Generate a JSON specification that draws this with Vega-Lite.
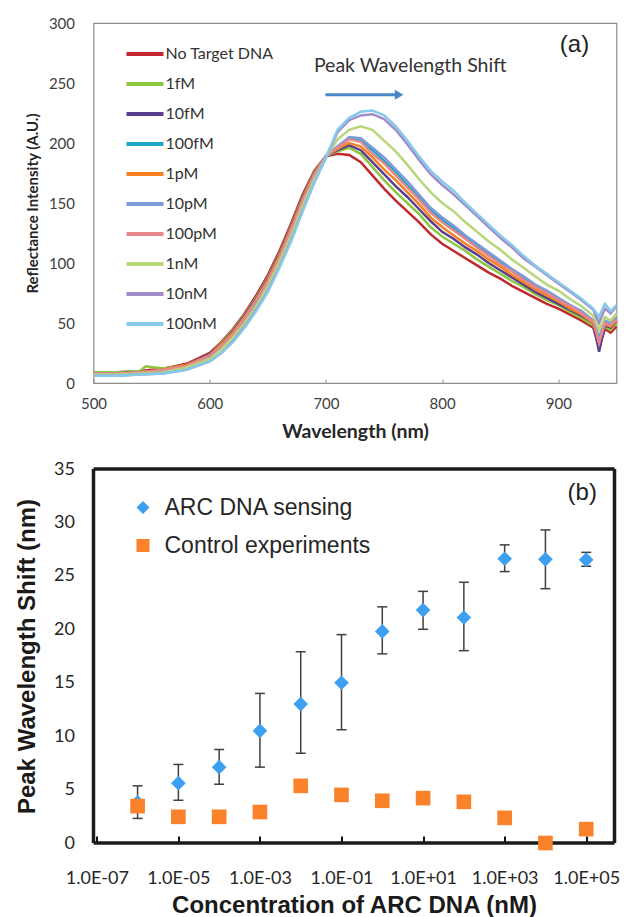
{
  "$schema": "https://vega.github.io/schema/vega-lite/v6.json",
  "background": "white",
  "padding": {"left": 15.5, "top": 15, "right": 4, "bottom": 2},
  "spacing": 86,
  "bounds": "flush",
  "resolve": {"scale": {"x": "independent", "y": "independent", "color": "independent", "shape": "independent"}, "legend": {"color": "independent", "shape": "independent"}},
  "datasets": {
    "spectra": [
      {"s":"No Target DNA","w":500,"r":9},{"s":"No Target DNA","w":520,"r":9},{"s":"No Target DNA","w":540,"r":10},{"s":"No Target DNA","w":560,"r":12},{"s":"No Target DNA","w":580,"r":16},{"s":"No Target DNA","w":600,"r":25},{"s":"No Target DNA","w":610,"r":34},{"s":"No Target DNA","w":620,"r":45},{"s":"No Target DNA","w":630,"r":58},{"s":"No Target DNA","w":640,"r":73},{"s":"No Target DNA","w":650,"r":90},{"s":"No Target DNA","w":660,"r":110},{"s":"No Target DNA","w":670,"r":133},{"s":"No Target DNA","w":680,"r":157},{"s":"No Target DNA","w":690,"r":177},{"s":"No Target DNA","w":700,"r":189},{"s":"No Target DNA","w":710,"r":191},{"s":"No Target DNA","w":720,"r":190},{"s":"No Target DNA","w":730,"r":184},{"s":"No Target DNA","w":740,"r":173},{"s":"No Target DNA","w":750,"r":162},{"s":"No Target DNA","w":760,"r":152},{"s":"No Target DNA","w":770,"r":143},{"s":"No Target DNA","w":780,"r":134},{"s":"No Target DNA","w":790,"r":124},{"s":"No Target DNA","w":800,"r":116},{"s":"No Target DNA","w":810,"r":110},{"s":"No Target DNA","w":820,"r":104},{"s":"No Target DNA","w":830,"r":98},{"s":"No Target DNA","w":840,"r":92},{"s":"No Target DNA","w":850,"r":87},{"s":"No Target DNA","w":860,"r":81},{"s":"No Target DNA","w":870,"r":76},{"s":"No Target DNA","w":880,"r":71},{"s":"No Target DNA","w":890,"r":66},{"s":"No Target DNA","w":900,"r":62},{"s":"No Target DNA","w":910,"r":57},{"s":"No Target DNA","w":920,"r":52},{"s":"No Target DNA","w":930,"r":46},{"s":"No Target DNA","w":935,"r":30},{"s":"No Target DNA","w":940,"r":45},{"s":"No Target DNA","w":945,"r":42},{"s":"No Target DNA","w":950,"r":47},
      {"s":"1fM","w":500,"r":9},{"s":"1fM","w":520,"r":9},{"s":"1fM","w":540,"r":10},{"s":"1fM","w":545,"r":14},{"s":"1fM","w":560,"r":12},{"s":"1fM","w":580,"r":15},{"s":"1fM","w":600,"r":24},{"s":"1fM","w":610,"r":33},{"s":"1fM","w":620,"r":44},{"s":"1fM","w":630,"r":57},{"s":"1fM","w":640,"r":71},{"s":"1fM","w":650,"r":88},{"s":"1fM","w":660,"r":108},{"s":"1fM","w":670,"r":131},{"s":"1fM","w":680,"r":155},{"s":"1fM","w":690,"r":176},{"s":"1fM","w":700,"r":189},{"s":"1fM","w":710,"r":193},{"s":"1fM","w":720,"r":196},{"s":"1fM","w":730,"r":191},{"s":"1fM","w":740,"r":180},{"s":"1fM","w":750,"r":169},{"s":"1fM","w":760,"r":159},{"s":"1fM","w":770,"r":150},{"s":"1fM","w":780,"r":141},{"s":"1fM","w":790,"r":130},{"s":"1fM","w":800,"r":122},{"s":"1fM","w":810,"r":116},{"s":"1fM","w":820,"r":110},{"s":"1fM","w":830,"r":103},{"s":"1fM","w":840,"r":97},{"s":"1fM","w":850,"r":91},{"s":"1fM","w":860,"r":85},{"s":"1fM","w":870,"r":80},{"s":"1fM","w":880,"r":74},{"s":"1fM","w":890,"r":69},{"s":"1fM","w":900,"r":65},{"s":"1fM","w":910,"r":59},{"s":"1fM","w":920,"r":54},{"s":"1fM","w":930,"r":48},{"s":"1fM","w":935,"r":34},{"s":"1fM","w":940,"r":47},{"s":"1fM","w":945,"r":44},{"s":"1fM","w":950,"r":50},
      {"s":"10fM","w":500,"r":8},{"s":"10fM","w":520,"r":8},{"s":"10fM","w":540,"r":9},{"s":"10fM","w":560,"r":11},{"s":"10fM","w":580,"r":15},{"s":"10fM","w":600,"r":24},{"s":"10fM","w":610,"r":32},{"s":"10fM","w":620,"r":43},{"s":"10fM","w":630,"r":56},{"s":"10fM","w":640,"r":70},{"s":"10fM","w":650,"r":87},{"s":"10fM","w":660,"r":107},{"s":"10fM","w":670,"r":130},{"s":"10fM","w":680,"r":154},{"s":"10fM","w":690,"r":175},{"s":"10fM","w":700,"r":189},{"s":"10fM","w":710,"r":194},{"s":"10fM","w":720,"r":198},{"s":"10fM","w":730,"r":194},{"s":"10fM","w":740,"r":184},{"s":"10fM","w":750,"r":174},{"s":"10fM","w":760,"r":164},{"s":"10fM","w":770,"r":155},{"s":"10fM","w":780,"r":145},{"s":"10fM","w":790,"r":135},{"s":"10fM","w":800,"r":126},{"s":"10fM","w":810,"r":120},{"s":"10fM","w":820,"r":113},{"s":"10fM","w":830,"r":107},{"s":"10fM","w":840,"r":100},{"s":"10fM","w":850,"r":94},{"s":"10fM","w":860,"r":88},{"s":"10fM","w":870,"r":82},{"s":"10fM","w":880,"r":76},{"s":"10fM","w":890,"r":71},{"s":"10fM","w":900,"r":66},{"s":"10fM","w":910,"r":61},{"s":"10fM","w":920,"r":56},{"s":"10fM","w":930,"r":50},{"s":"10fM","w":935,"r":26},{"s":"10fM","w":940,"r":48},{"s":"10fM","w":945,"r":46},{"s":"10fM","w":950,"r":52},
      {"s":"100fM","w":500,"r":8},{"s":"100fM","w":520,"r":8},{"s":"100fM","w":540,"r":9},{"s":"100fM","w":560,"r":10},{"s":"100fM","w":580,"r":14},{"s":"100fM","w":600,"r":22},{"s":"100fM","w":610,"r":31},{"s":"100fM","w":620,"r":41},{"s":"100fM","w":630,"r":53},{"s":"100fM","w":640,"r":68},{"s":"100fM","w":650,"r":85},{"s":"100fM","w":660,"r":105},{"s":"100fM","w":670,"r":127},{"s":"100fM","w":680,"r":152},{"s":"100fM","w":690,"r":173},{"s":"100fM","w":700,"r":189},{"s":"100fM","w":710,"r":197},{"s":"100fM","w":720,"r":204},{"s":"100fM","w":730,"r":202},{"s":"100fM","w":740,"r":194},{"s":"100fM","w":750,"r":185},{"s":"100fM","w":760,"r":176},{"s":"100fM","w":770,"r":165},{"s":"100fM","w":780,"r":155},{"s":"100fM","w":790,"r":144},{"s":"100fM","w":800,"r":136},{"s":"100fM","w":810,"r":129},{"s":"100fM","w":820,"r":121},{"s":"100fM","w":830,"r":114},{"s":"100fM","w":840,"r":107},{"s":"100fM","w":850,"r":101},{"s":"100fM","w":860,"r":94},{"s":"100fM","w":870,"r":87},{"s":"100fM","w":880,"r":81},{"s":"100fM","w":890,"r":75},{"s":"100fM","w":900,"r":70},{"s":"100fM","w":910,"r":65},{"s":"100fM","w":920,"r":59},{"s":"100fM","w":930,"r":52},{"s":"100fM","w":935,"r":35},{"s":"100fM","w":940,"r":51},{"s":"100fM","w":945,"r":49},{"s":"100fM","w":950,"r":54},
      {"s":"1pM","w":500,"r":8},{"s":"1pM","w":520,"r":8},{"s":"1pM","w":540,"r":9},{"s":"1pM","w":560,"r":11},{"s":"1pM","w":580,"r":15},{"s":"1pM","w":600,"r":23},{"s":"1pM","w":610,"r":32},{"s":"1pM","w":620,"r":42},{"s":"1pM","w":630,"r":55},{"s":"1pM","w":640,"r":69},{"s":"1pM","w":650,"r":86},{"s":"1pM","w":660,"r":106},{"s":"1pM","w":670,"r":129},{"s":"1pM","w":680,"r":153},{"s":"1pM","w":690,"r":174},{"s":"1pM","w":700,"r":189},{"s":"1pM","w":710,"r":195},{"s":"1pM","w":720,"r":200},{"s":"1pM","w":730,"r":197},{"s":"1pM","w":740,"r":188},{"s":"1pM","w":750,"r":178},{"s":"1pM","w":760,"r":169},{"s":"1pM","w":770,"r":159},{"s":"1pM","w":780,"r":149},{"s":"1pM","w":790,"r":138},{"s":"1pM","w":800,"r":130},{"s":"1pM","w":810,"r":123},{"s":"1pM","w":820,"r":116},{"s":"1pM","w":830,"r":110},{"s":"1pM","w":840,"r":103},{"s":"1pM","w":850,"r":97},{"s":"1pM","w":860,"r":90},{"s":"1pM","w":870,"r":84},{"s":"1pM","w":880,"r":78},{"s":"1pM","w":890,"r":73},{"s":"1pM","w":900,"r":68},{"s":"1pM","w":910,"r":62},{"s":"1pM","w":920,"r":57},{"s":"1pM","w":930,"r":50},{"s":"1pM","w":935,"r":36},{"s":"1pM","w":940,"r":49},{"s":"1pM","w":945,"r":47},{"s":"1pM","w":950,"r":52},
      {"s":"10pM","w":500,"r":8},{"s":"10pM","w":520,"r":8},{"s":"10pM","w":540,"r":9},{"s":"10pM","w":560,"r":10},{"s":"10pM","w":580,"r":14},{"s":"10pM","w":600,"r":22},{"s":"10pM","w":610,"r":30},{"s":"10pM","w":620,"r":40},{"s":"10pM","w":630,"r":53},{"s":"10pM","w":640,"r":67},{"s":"10pM","w":650,"r":84},{"s":"10pM","w":660,"r":104},{"s":"10pM","w":670,"r":127},{"s":"10pM","w":680,"r":151},{"s":"10pM","w":690,"r":173},{"s":"10pM","w":700,"r":189},{"s":"10pM","w":710,"r":197},{"s":"10pM","w":720,"r":205},{"s":"10pM","w":730,"r":204},{"s":"10pM","w":740,"r":196},{"s":"10pM","w":750,"r":188},{"s":"10pM","w":760,"r":178},{"s":"10pM","w":770,"r":168},{"s":"10pM","w":780,"r":157},{"s":"10pM","w":790,"r":146},{"s":"10pM","w":800,"r":138},{"s":"10pM","w":810,"r":131},{"s":"10pM","w":820,"r":123},{"s":"10pM","w":830,"r":116},{"s":"10pM","w":840,"r":109},{"s":"10pM","w":850,"r":102},{"s":"10pM","w":860,"r":95},{"s":"10pM","w":870,"r":89},{"s":"10pM","w":880,"r":82},{"s":"10pM","w":890,"r":77},{"s":"10pM","w":900,"r":71},{"s":"10pM","w":910,"r":65},{"s":"10pM","w":920,"r":60},{"s":"10pM","w":930,"r":52},{"s":"10pM","w":935,"r":38},{"s":"10pM","w":940,"r":52},{"s":"10pM","w":945,"r":50},{"s":"10pM","w":950,"r":55},
      {"s":"100pM","w":500,"r":8},{"s":"100pM","w":520,"r":8},{"s":"100pM","w":540,"r":9},{"s":"100pM","w":560,"r":11},{"s":"100pM","w":580,"r":14},{"s":"100pM","w":600,"r":23},{"s":"100pM","w":610,"r":31},{"s":"100pM","w":620,"r":41},{"s":"100pM","w":630,"r":54},{"s":"100pM","w":640,"r":69},{"s":"100pM","w":650,"r":85},{"s":"100pM","w":660,"r":105},{"s":"100pM","w":670,"r":128},{"s":"100pM","w":680,"r":152},{"s":"100pM","w":690,"r":174},{"s":"100pM","w":700,"r":189},{"s":"100pM","w":710,"r":196},{"s":"100pM","w":720,"r":203},{"s":"100pM","w":730,"r":201},{"s":"100pM","w":740,"r":191},{"s":"100pM","w":750,"r":183},{"s":"100pM","w":760,"r":173},{"s":"100pM","w":770,"r":163},{"s":"100pM","w":780,"r":153},{"s":"100pM","w":790,"r":142},{"s":"100pM","w":800,"r":134},{"s":"100pM","w":810,"r":127},{"s":"100pM","w":820,"r":120},{"s":"100pM","w":830,"r":113},{"s":"100pM","w":840,"r":106},{"s":"100pM","w":850,"r":99},{"s":"100pM","w":860,"r":93},{"s":"100pM","w":870,"r":86},{"s":"100pM","w":880,"r":80},{"s":"100pM","w":890,"r":75},{"s":"100pM","w":900,"r":69},{"s":"100pM","w":910,"r":64},{"s":"100pM","w":920,"r":58},{"s":"100pM","w":930,"r":51},{"s":"100pM","w":935,"r":33},{"s":"100pM","w":940,"r":50},{"s":"100pM","w":945,"r":48},{"s":"100pM","w":950,"r":53},
      {"s":"1nM","w":500,"r":7},{"s":"1nM","w":520,"r":7},{"s":"1nM","w":540,"r":8},{"s":"1nM","w":560,"r":9},{"s":"1nM","w":580,"r":13},{"s":"1nM","w":600,"r":20},{"s":"1nM","w":610,"r":28},{"s":"1nM","w":620,"r":38},{"s":"1nM","w":630,"r":50},{"s":"1nM","w":640,"r":64},{"s":"1nM","w":650,"r":81},{"s":"1nM","w":660,"r":101},{"s":"1nM","w":670,"r":123},{"s":"1nM","w":680,"r":148},{"s":"1nM","w":690,"r":170},{"s":"1nM","w":700,"r":188},{"s":"1nM","w":710,"r":203},{"s":"1nM","w":720,"r":211},{"s":"1nM","w":730,"r":214},{"s":"1nM","w":740,"r":211},{"s":"1nM","w":750,"r":202},{"s":"1nM","w":760,"r":193},{"s":"1nM","w":770,"r":182},{"s":"1nM","w":780,"r":170},{"s":"1nM","w":790,"r":159},{"s":"1nM","w":800,"r":150},{"s":"1nM","w":810,"r":143},{"s":"1nM","w":820,"r":134},{"s":"1nM","w":830,"r":126},{"s":"1nM","w":840,"r":118},{"s":"1nM","w":850,"r":111},{"s":"1nM","w":860,"r":103},{"s":"1nM","w":870,"r":96},{"s":"1nM","w":880,"r":89},{"s":"1nM","w":890,"r":82},{"s":"1nM","w":900,"r":77},{"s":"1nM","w":910,"r":70},{"s":"1nM","w":920,"r":64},{"s":"1nM","w":930,"r":56},{"s":"1nM","w":935,"r":44},{"s":"1nM","w":940,"r":55},{"s":"1nM","w":945,"r":52},{"s":"1nM","w":950,"r":58},
      {"s":"10nM","w":500,"r":6},{"s":"10nM","w":520,"r":6},{"s":"10nM","w":540,"r":7},{"s":"10nM","w":560,"r":8},{"s":"10nM","w":580,"r":11},{"s":"10nM","w":600,"r":18},{"s":"10nM","w":610,"r":25},{"s":"10nM","w":620,"r":35},{"s":"10nM","w":630,"r":47},{"s":"10nM","w":640,"r":61},{"s":"10nM","w":650,"r":77},{"s":"10nM","w":660,"r":97},{"s":"10nM","w":670,"r":119},{"s":"10nM","w":680,"r":144},{"s":"10nM","w":690,"r":167},{"s":"10nM","w":700,"r":188},{"s":"10nM","w":710,"r":209},{"s":"10nM","w":720,"r":219},{"s":"10nM","w":730,"r":223},{"s":"10nM","w":740,"r":224},{"s":"10nM","w":750,"r":220},{"s":"10nM","w":760,"r":211},{"s":"10nM","w":770,"r":199},{"s":"10nM","w":780,"r":186},{"s":"10nM","w":790,"r":174},{"s":"10nM","w":800,"r":165},{"s":"10nM","w":810,"r":157},{"s":"10nM","w":820,"r":148},{"s":"10nM","w":830,"r":139},{"s":"10nM","w":840,"r":130},{"s":"10nM","w":850,"r":121},{"s":"10nM","w":860,"r":113},{"s":"10nM","w":870,"r":104},{"s":"10nM","w":880,"r":97},{"s":"10nM","w":890,"r":90},{"s":"10nM","w":900,"r":83},{"s":"10nM","w":910,"r":76},{"s":"10nM","w":920,"r":69},{"s":"10nM","w":930,"r":61},{"s":"10nM","w":935,"r":50},{"s":"10nM","w":940,"r":62},{"s":"10nM","w":945,"r":58},{"s":"10nM","w":950,"r":64},
      {"s":"100nM","w":500,"r":6},{"s":"100nM","w":520,"r":6},{"s":"100nM","w":540,"r":7},{"s":"100nM","w":560,"r":8},{"s":"100nM","w":580,"r":11},{"s":"100nM","w":600,"r":18},{"s":"100nM","w":610,"r":25},{"s":"100nM","w":620,"r":34},{"s":"100nM","w":630,"r":46},{"s":"100nM","w":640,"r":60},{"s":"100nM","w":650,"r":76},{"s":"100nM","w":660,"r":96},{"s":"100nM","w":670,"r":118},{"s":"100nM","w":680,"r":143},{"s":"100nM","w":690,"r":167},{"s":"100nM","w":700,"r":188},{"s":"100nM","w":710,"r":211},{"s":"100nM","w":720,"r":221},{"s":"100nM","w":730,"r":226},{"s":"100nM","w":740,"r":227},{"s":"100nM","w":750,"r":223},{"s":"100nM","w":760,"r":214},{"s":"100nM","w":770,"r":202},{"s":"100nM","w":780,"r":189},{"s":"100nM","w":790,"r":177},{"s":"100nM","w":800,"r":168},{"s":"100nM","w":810,"r":160},{"s":"100nM","w":820,"r":150},{"s":"100nM","w":830,"r":141},{"s":"100nM","w":840,"r":132},{"s":"100nM","w":850,"r":123},{"s":"100nM","w":860,"r":115},{"s":"100nM","w":870,"r":106},{"s":"100nM","w":880,"r":98},{"s":"100nM","w":890,"r":91},{"s":"100nM","w":900,"r":84},{"s":"100nM","w":910,"r":77},{"s":"100nM","w":920,"r":70},{"s":"100nM","w":930,"r":62},{"s":"100nM","w":935,"r":55},{"s":"100nM","w":940,"r":66},{"s":"100nM","w":945,"r":60},{"s":"100nM","w":950,"r":65}
    ],
    "shift": [
      {"s":"ARC DNA sensing","c":1e-6,"v":3.8,"lo":2.3,"hi":5.35},
      {"s":"ARC DNA sensing","c":1e-5,"v":5.6,"lo":4.0,"hi":7.35},
      {"s":"ARC DNA sensing","c":1e-4,"v":7.1,"lo":5.5,"hi":8.75},
      {"s":"ARC DNA sensing","c":1e-3,"v":10.5,"lo":7.1,"hi":14.0},
      {"s":"ARC DNA sensing","c":1e-2,"v":13.0,"lo":8.4,"hi":17.9},
      {"s":"ARC DNA sensing","c":1e-1,"v":15.0,"lo":10.6,"hi":19.5},
      {"s":"ARC DNA sensing","c":1,"v":19.8,"lo":17.7,"hi":22.1},
      {"s":"ARC DNA sensing","c":10,"v":21.8,"lo":20.0,"hi":23.55},
      {"s":"ARC DNA sensing","c":100,"v":21.1,"lo":18.0,"hi":24.4},
      {"s":"ARC DNA sensing","c":1000,"v":26.6,"lo":25.4,"hi":27.9},
      {"s":"ARC DNA sensing","c":10000,"v":26.55,"lo":23.8,"hi":29.3},
      {"s":"ARC DNA sensing","c":100000,"v":26.5,"lo":25.9,"hi":27.2},
      {"s":"Control experiments","c":1e-6,"v":3.45},
      {"s":"Control experiments","c":1e-5,"v":2.45},
      {"s":"Control experiments","c":1e-4,"v":2.45},
      {"s":"Control experiments","c":1e-3,"v":2.9},
      {"s":"Control experiments","c":1e-2,"v":5.35},
      {"s":"Control experiments","c":1e-1,"v":4.5},
      {"s":"Control experiments","c":1,"v":3.95},
      {"s":"Control experiments","c":10,"v":4.2},
      {"s":"Control experiments","c":100,"v":3.85},
      {"s":"Control experiments","c":1000,"v":2.35},
      {"s":"Control experiments","c":10000,"v":0.0},
      {"s":"Control experiments","c":100000,"v":1.3}
    ]
  },
  "vconcat": [
    {
      "width": 523,
      "height": 360,
      "view": {"stroke": "#8c8c8c", "strokeWidth": 1.2},
      "encoding": {
        "x": {"field": "w", "type": "quantitative", "scale": {"domain": [500, 950], "nice": false, "zero": false},
          "axis": {"title": "Wavelength (nm)", "values": [500, 600, 700, 800, 900], "grid": false, "domain": false, "tickSize": -4, "tickColor": "#8c8c8c", "labelFont": "Lato", "labelFontSize": 15, "labelColor": "#404040", "labelPadding": 17, "labelFlush": false, "titleFont": "Lato", "titleFontSize": 19.5, "titleFontWeight": "bold", "titleColor": "#262626", "titlePadding": 11}},
        "y": {"field": "r", "type": "quantitative", "scale": {"domain": [0, 300], "nice": false},
          "axis": {"title": "Reflectance Intensity (A.U.)", "values": [0, 50, 100, 150, 200, 250, 300], "grid": false, "domain": false, "ticks": false, "labelFont": "Lato", "labelFontSize": 15, "labelColor": "#404040", "labelPadding": 19, "titleFont": "Lato", "titleFontSize": 15, "titleFontWeight": "bold", "titleColor": "#262626", "titlePadding": 8}}
      },
      "layer": [
        {
          "data": {"name": "spectra"},
          "mark": {"type": "line", "strokeWidth": 2.5},
          "encoding": {
            "color": {"field": "s", "type": "nominal",
              "scale": {"domain": ["No Target DNA", "1fM", "10fM", "100fM", "1pM", "10pM", "100pM", "1nM", "10nM", "100nM"],
                "range": ["#c0282e", "#8cc63f", "#5a3e8e", "#1ea7c6", "#f7801e", "#7b9bd8", "#e8868a", "#b8d67a", "#a08ccb", "#86c9ea"]},
              "legend": {"title": null, "orient": "none", "legendX": 31, "legendY": 23, "symbolType": "stroke", "symbolSize": 1369, "symbolStrokeWidth": 4, "clipHeight": 16, "rowPadding": 14, "labelFont": "Lato", "labelFontSize": 16, "labelColor": "#333333", "labelOffset": 0, "labelLimit": 300, "padding": 0}}
          }
        },
        {
          "data": {"values": [{"w": 772.5, "r": 264.5, "t": "Peak Wavelength Shift"}]},
          "mark": {"type": "text", "font": "Lato", "fontSize": 19.5, "color": "#333333"},
          "encoding": {"text": {"field": "t"}}
        },
        {
          "data": {"values": [{"w": 699.6, "w2": 760, "r": 240.2}]},
          "mark": {"type": "rule", "strokeWidth": 3, "color": "#4a86c8"},
          "encoding": {"x2": {"field": "w2"}}
        },
        {
          "data": {"values": [{"w": 763, "r": 240.2}]},
          "mark": {"type": "point", "shape": "triangle-right", "filled": true, "size": 100, "color": "#4a86c8", "opacity": 1},
          "encoding": {}
        },
        {
          "data": {"values": [{"w": 913.9, "r": 281.7, "t": "(a)"}]},
          "mark": {"type": "text", "font": "Liberation Sans", "fontSize": 24, "color": "#222222"},
          "encoding": {"text": {"field": "t"}}
        }
      ]
    },
    {
      "width": 521,
      "height": 374,
      "view": {"stroke": null},
      "encoding": {
        "x": {"field": "c", "type": "quantitative", "scale": {"type": "log", "domain": [8.3e-8, 494000], "nice": false},
          "axis": {"title": "Concentration of ARC DNA (nM)", "values": [1e-7, 1e-5, 1e-3, 0.1, 10, 1000, 100000], "labelExpr": "'1.0E' + (datum.value >= 1 ? '+0' : '-0') + abs(round(log(datum.value) / LN10))", "grid": false, "domain": false, "tickSize": -7, "tickWidth": 2, "tickColor": "#111111", "labelFont": "Lato", "labelFontSize": 18, "labelColor": "#262626", "labelPadding": 33, "labelFlush": false, "titleFont": "Liberation Sans", "titleFontSize": 24, "titleFontWeight": "bold", "titleColor": "#1a1a1a", "titlePadding": 6}},
        "y": {"field": "v", "type": "quantitative", "scale": {"domain": [0, 35], "nice": false},
          "axis": {"title": "Peak Wavelength Shift (nm)", "values": [0, 5, 10, 15, 20, 25, 30, 35], "grid": false, "domain": false, "ticks": false, "labelFont": "Lato", "labelFontSize": 18, "labelColor": "#262626", "labelPadding": 19, "titleFont": "Liberation Sans", "titleFontSize": 24, "titleFontWeight": "bold", "titleColor": "#1a1a1a", "titlePadding": 14}}
      },
      "layer": [
        {
          "data": {"values": [{"c": 8.3e-8, "v": 35}, {"c": 494000, "v": 35}]},
          "mark": {"type": "line", "strokeWidth": 3.5, "color": "#1a1a1a", "clip": false},
          "encoding": {}
        },
        {
          "data": {"values": [{"c": 8.3e-8, "v": 0}, {"c": 494000, "v": 0}]},
          "mark": {"type": "line", "strokeWidth": 3.5, "color": "#1a1a1a", "clip": false},
          "encoding": {}
        },
        {
          "data": {"values": [{"c": 494000, "v": 0}, {"c": 494000, "v": 35}]},
          "mark": {"type": "line", "strokeWidth": 3.5, "color": "#1a1a1a", "clip": false},
          "encoding": {"order": {"field": "v"}}
        },
        {
          "data": {"values": [{"c": 8.3e-8, "v": 0}, {"c": 8.3e-8, "v": 35}]},
          "mark": {"type": "line", "strokeWidth": 3.5, "color": "#1a1a1a", "clip": false},
          "encoding": {"order": {"field": "v"}}
        },
        {
          "data": {"name": "shift"},
          "transform": [{"filter": "isValid(datum.lo)"}],
          "mark": {"type": "rule", "strokeWidth": 1.5, "color": "#404040"},
          "encoding": {"y": {"field": "lo", "type": "quantitative"}, "y2": {"field": "hi"}}
        },
        {
          "data": {"name": "shift"},
          "transform": [{"filter": "isValid(datum.lo)"}],
          "mark": {"type": "tick", "orient": "horizontal", "size": 10, "thickness": 1.5, "color": "#404040", "opacity": 1},
          "encoding": {"y": {"field": "lo", "type": "quantitative"}}
        },
        {
          "data": {"name": "shift"},
          "transform": [{"filter": "isValid(datum.hi)"}],
          "mark": {"type": "tick", "orient": "horizontal", "size": 10, "thickness": 1.5, "color": "#404040", "opacity": 1},
          "encoding": {"y": {"field": "hi", "type": "quantitative"}}
        },
        {
          "data": {"name": "shift"},
          "mark": {"type": "point", "filled": true, "size": 215, "opacity": 1},
          "encoding": {
            "color": {"field": "s", "type": "nominal", "scale": {"domain": ["ARC DNA sensing", "Control experiments"], "range": ["#3d9ff0", "#f9822a"]},
              "legend": {"title": null, "orient": "none", "legendX": 38, "legendY": 27, "symbolSize": 170, "symbolStrokeWidth": 0, "labelFont": "Liberation Sans", "labelFontSize": 23, "labelColor": "#262626", "labelOffset": 10, "labelLimit": 400, "rowPadding": 14, "padding": 0}},
            "shape": {"field": "s", "type": "nominal", "scale": {"domain": ["ARC DNA sensing", "Control experiments"], "range": ["diamond", "square"]}}
          }
        },
        {
          "data": {"values": [{"c": 80000, "v": 32.8, "t": "(b)"}]},
          "mark": {"type": "text", "font": "Liberation Sans", "fontSize": 24, "color": "#222222"},
          "encoding": {"text": {"field": "t"}}
        }
      ]
    }
  ]
}
